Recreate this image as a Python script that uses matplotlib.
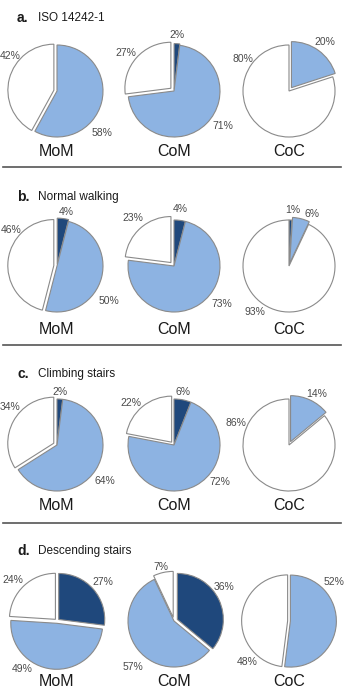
import matplotlib
matplotlib.use("Agg")
import matplotlib.pyplot as plt

# ---------------- data ----------------
categories = ["MoM", "CoM", "CoC"]
panel_letters = ["a.", "b.", "c.", "d."]
panel_titles = ["ISO 14242-1", "Normal walking", "Climbing stairs", "Descending stairs"]
# slice order (clockwise from 12 o'clock): dark, light, white
dark_pct = [[0, 2, 0], [4, 4, 1], [2, 6, 0], [27, 36, 0]]
light_pct = [[58, 71, 20], [50, 73, 6], [64, 72, 14], [49, 57, 52]]
white_pct = [[42, 27, 80], [46, 23, 93], [34, 22, 86], [24, 7, 48]]

# ---------------- layout / style ----------------
W, H = 346, 698
DARK = "#1f487c"
LIGHT = "#8db3e2"
WHITE = "#ffffff"
EDGE = "#8a8a8a"
R = 46
col_x = [57, 174, 289]
row_y = [91, 266, 445, 621]
name_y = [152, 329, 505, 682]
title_y = [18, 197, 374, 551]
line_y = [167, 345, 523]

# explode per slice (dark, light, white) in radius units
explode = [
    [(0, 0, 0.07), (0.03, 0, 0.09), (0, 0.09, 0)],
    [(0.04, 0, 0.07), (0, 0, 0.1), (0, 0.06, 0)],
    [(0, 0, 0.08), (0, 0, 0.08), (0, 0.08, 0)],
    [(0.05, 0.05, 0.05), (0.08, 0, 0.08), (0, 0.03, 0.03)],
]
# label offsets in px (dx, dy-up) for (dark, light, white)
lab_off = [
    [(None, (45, -42), (-47, 35)), ((3, 56), (49, -35), (-48, 38)), (None, (36, 49), (-46, 32))],
    [((9, 54), (52, -35), (-46, 36)), ((6, 57), (48, -38), (-41, 48)), ((4, 56), (23, 52), (-34, -46))],
    [((3, 53), (48, -36), (-47, 38)), ((9, 53), (46, -37), (-43, 42)), (None, (28, 51), (-53, 22))],
    [((46, 39), (-35, -48), (-44, 41)), ((50, 34), (-41, -46), (-13, 54)), (None, (45, 39), (-42, -41))],
]

plt.rcParams['font.family'] = ['Liberation Sans', 'DejaVu Sans']
fig = plt.figure(figsize=(W / 100, H / 100), dpi=100)
ax = fig.add_axes([0, 0, 1, 1])

for p in range(4):
    cy = H - row_y[p]
    for c in range(3):
        cx = col_x[c]
        vals = [dark_pct[p][c], light_pct[p][c], white_pct[p][c]]
        cols = [DARK, LIGHT, WHITE]
        ex = explode[p][c]
        keep = [i for i, v in enumerate(vals) if v > 0]
        ax.pie([vals[i] for i in keep], colors=[cols[i] for i in keep],
               explode=[ex[i] * R for i in keep], startangle=90, counterclock=False,
               center=(cx, cy), radius=R, frame=True,
               wedgeprops=dict(edgecolor=EDGE, linewidth=0.8))
        for i in keep:
            off = lab_off[p][c][i]
            ax.text(cx + off[0], cy + off[1], f"{vals[i]}%", ha="center", va="center",
                    fontsize=7.5, color="#4a4a4a")
        ax.text(cx, H - name_y[p], categories[c], ha="center", va="center",
                fontsize=11.5, color="#1a1a1a")
    ax.text(17, H - title_y[p], panel_letters[p], ha="left", va="center",
            fontsize=10, fontweight="bold", color="#1a1a1a")
    ax.text(38, H - title_y[p], panel_titles[p], ha="left", va="center",
            fontsize=8.5, color="#1a1a1a")

for ly in line_y:
    ax.plot([3, 341], [H - ly, H - ly], color="#555555", linewidth=1.2)

ax.set_xlim(0, W)
ax.set_ylim(0, H)
ax.set_aspect("equal")
ax.axis("off")
fig.savefig("out.png", dpi=100)
